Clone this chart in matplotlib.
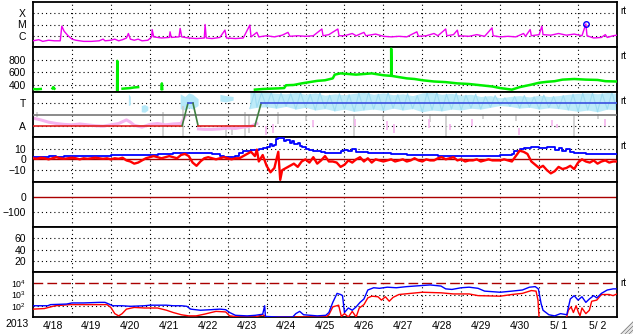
import numpy as np
import matplotlib
matplotlib.use("Agg")
import matplotlib.pyplot as plt
from matplotlib.lines import Line2D

plt.rcParams['font.family'] = ['Liberation Sans', 'DejaVu Sans']
plt.rcParams['mathtext.fontset'] = 'custom'
plt.rcParams['mathtext.rm'] = 'Liberation Sans'
plt.rcParams['mathtext.it'] = 'Liberation Sans'

# ---------------- data (x = days since 2013-04-18 00:00) ----------------
date_labels = ['4/18', '4/19', '4/20', '4/21', '4/22', '4/23', '4/24', '4/25',
               '4/26', '4/27', '4/28', '4/29', '4/30', '5/ 1', '5/ 2']
year_label = '2013'

# X-ray flux, log10(W/m2)
xray_t = [0.0, 0.15, 0.25, 0.4, 0.55, 0.7, 0.74, 0.8, 0.9, 1.0, 1.1, 1.3, 1.5, 1.7, 1.8, 1.85,
          2.0, 2.1, 2.2, 2.3, 2.4, 2.45, 2.5, 2.6, 2.7, 2.8, 2.95, 3.05, 3.06, 3.1, 3.3, 3.5,
          3.52, 3.55, 3.75, 3.78, 3.82, 4.0, 4.2, 4.4, 4.42, 4.45, 4.6, 4.8, 4.93, 4.97, 5.2,
          5.4, 5.57, 5.6, 5.75, 5.8, 6.0, 6.2, 6.4, 6.55, 6.6, 6.8, 7.0, 7.2, 7.42, 7.45, 7.6,
          7.83, 7.86, 8.0, 8.2, 8.3, 8.5, 8.55, 8.8, 9.0, 9.2, 9.4, 9.6, 9.86, 9.9, 10.1, 10.3,
          10.4, 10.6, 10.63, 10.8, 10.9, 10.93, 11.2, 11.4, 11.6, 11.79, 11.82, 12.0, 12.2,
          12.4, 12.6, 12.65, 12.77, 12.8, 13.0, 13.07, 13.1, 13.3, 13.5, 13.7, 13.9, 14.1,
          14.2, 14.23, 14.4, 14.6, 14.7, 14.75, 14.9, 15.0]
xray_v = [-6.45, -6.35, -6.5, -6.4, -6.45, -6.45, -5.15, -5.6, -6.0, -6.3, -6.4, -6.5, -6.5,
          -6.45, -6.3, -6.45, -6.4, -6.3, -6.45, -6.35, -6.2, -5.8, -6.3, -6.4, -6.3, -6.45,
          -6.4, -6.1, -5.45, -6.1, -6.2, -6.15, -5.65, -6.15, -6.1, -5.35, -6.1, -6.2, -6.25,
          -6.2, -5.0, -6.2, -6.25, -6.15, -5.5, -6.2, -6.25, -6.2, -5.05, -6.1, -5.7, -6.1,
          -6.0, -6.1, -5.95, -5.7, -6.05, -6.0, -6.05, -6.0, -5.4, -6.0, -5.9, -5.4, -6.0,
          -6.0, -5.8, -6.0, -5.7, -6.0, -5.85, -6.05, -6.1, -6.05, -6.1, -5.65, -6.05, -6.0,
          -5.8, -6.0, -5.4, -6.0, -5.9, -5.5, -6.0, -6.05, -5.9, -6.05, -5.3, -6.0, -6.1,
          -6.05, -6.1, -5.8, -6.05, -5.45, -6.0, -5.9, -5.15, -5.9, -5.95, -5.8, -5.95, -5.85,
          -6.0, -4.95, -6.0, -6.2, -6.15, -5.9, -6.15, -6.0, -5.95]
flare_t = [14.2]
flare_v = [-4.93]

# Solar wind speed (km/s), NaN = gap
speed_t = [0.0, 0.1, 0.2, 0.25, 0.5, 0.52, 0.55, 0.6, 1.05, 1.1, 1.5, 1.6, 1.9, 2.0, 2.16,
           2.165, 2.17, 2.2, 2.3, 2.4, 2.5, 2.6, 2.7, 2.75, 3.0, 3.1, 3.3, 3.31, 3.32, 3.35,
           4.2, 4.25, 5.4, 5.45, 5.7, 5.9, 6.1, 6.3, 6.45, 6.5, 6.7, 6.9, 7.1, 7.3, 7.5, 7.7,
           7.75, 7.9, 8.1, 8.3, 8.5, 8.7, 8.9, 9.0, 9.2, 9.2, 9.21, 9.4, 9.6, 9.8, 10.0, 10.3,
           10.6, 10.9, 11.2, 11.5, 11.8, 12.0, 12.3, 12.5, 12.8, 13.0, 13.2, 13.4, 13.6, 13.9,
           14.2, 14.5, 14.7, 15.0]
speed_v = [330, 325, 330, np.nan, 340, 360, 335, np.nan, 320, np.nan, 335, np.nan, 320, np.nan,
           320, 780, 320, np.nan, 335, 340, 345, 355, 360, np.nan, 330, np.nan, 330, 420, 330,
           np.nan, 325, np.nan, 325, np.nan, 320, 330, 335, 340, 345, 390, 395, 420, 440, 460,
           470, 500, 560, 580, 570, 560, 570, 580, 560, 550, 540, 975, 540, 520, 500, 490, 470,
           450, 440, 420, 410, 390, 370, 345, 320, 360, 400, 430, 445, 455, 480, 490, 480, 475,
           455, 450]

# T / A panel (normalised panel height 0..1)
mode_t = [0.0, 3.83, 3.98, 4.11, 4.24, 5.70, 5.86, 15.0]
mode_v = ['A', 'A', 'T', 'T', 'A', 'A', 'T', 'T']
pink_t = [0.0, 0.2, 0.4, 0.6, 0.8, 1.0, 1.2, 1.4, 1.6, 1.8, 2.0, 2.2, 2.4, 2.5, 2.6, 2.8, 3.0,
          3.2, 3.4, 3.6, 3.8, 3.9, 4.0, 4.25, 4.4, 4.6, 4.8, 5.0, 5.2, 5.4, 5.6, 5.75]
pink_v = [0.42, 0.38, 0.33, 0.30, 0.28, 0.27, 0.29, 0.27, 0.25, 0.24, 0.27, 0.30, 0.38, 0.33,
          0.26, 0.22, 0.28, 0.30, 0.27, 0.29, 0.30, 0.45, np.nan, 0.18, 0.17, 0.17, 0.18, 0.20,
          0.19, 0.22, 0.24, 0.30]
pink_tick_t = [5.99, 6.17, 7.2, 8.27, 9.1, 9.27, 10.17, 10.7, 11.28, 12.48, 13.33, 13.45, 14.7]
pink_tick_lo = [0.05, 0.10, 0.22, 0.25, 0.15, 0.10, 0.20, 0.15, 0.25, 0.05, 0.25, 0.20, 0.25]
pink_tick_hi = [0.25, 0.30, 0.38, 0.40, 0.35, 0.30, 0.40, 0.30, 0.40, 0.20, 0.38, 0.30, 0.40]
cyan_blob_t = [[2.45, 2.5], [2.78, 2.87, 2.95], [3.78, 3.9, 4.0, 4.1, 4.24], [4.8, 4.95, 5.14]]
cyan_blob_lo = [[0.70, 0.72], [0.56, 0.55, 0.60], [0.63, 0.60, 0.65, 0.62, 0.70], [0.80, 0.78, 0.82]]
cyan_blob_hi = [[0.96, 0.90], [0.70, 0.72, 0.68], [0.96, 0.90, 0.98, 0.95, 0.85], [0.95, 0.92, 0.90]]
cyan_t = [5.57, 5.75, 6.0, 6.25, 6.5, 6.75, 7.0, 7.25, 7.5, 7.75, 8.0, 8.25, 8.5, 8.75, 9.0,
          9.25, 9.5, 9.75, 10.0, 10.25, 10.5, 10.75, 11.0, 11.25, 11.5, 11.75, 12.0, 12.25,
          12.5, 12.75, 13.0, 13.25, 13.5, 13.75, 14.0, 14.25, 14.5, 14.75, 15.0]
cyan_lo = [0.63, 0.66, 0.67, 0.64, 0.68, 0.62, 0.66, 0.60, 0.63, 0.58, 0.62, 0.57, 0.60, 0.62,
           0.59, 0.64, 0.60, 0.63, 0.56, 0.60, 0.58, 0.62, 0.60, 0.64, 0.62, 0.66, 0.70, 0.68,
           0.64, 0.66, 0.62, 0.65, 0.63, 0.60, 0.57, 0.60, 0.56, 0.62, 0.60]
cyan_hi = [1.00, 0.98, 0.99, 0.97, 0.96, 0.99, 0.95, 0.98, 0.93, 0.96, 0.94, 0.97, 0.99, 0.95,
           0.98, 0.94, 0.96, 0.92, 0.98, 0.99, 0.95, 0.97, 0.93, 0.95, 0.90, 0.92, 0.87, 0.90,
           0.92, 0.89, 0.93, 0.90, 0.92, 0.95, 0.97, 0.98, 0.96, 0.99, 0.97]
grey_t = [0.1, 3.34, 3.85, 4.95, 5.1, 5.45, 5.55, 6.3, 7.0, 8.25, 9.0, 10.2, 10.6, 11.55, 12.4, 13.9, 14.5]
grey_lo = [0.45, 0.0, 0.0, 0.0, 0.05, 0.0, 0.10, 0.30, 0.35, 0.0, 0.38, 0.33, 0.0, 0.40, 0.35, 0.0, 0.40]
grey_hi = [0.55, 0.55, 0.70, 0.26, 0.20, 0.55, 0.50, 0.55, 0.50, 0.48, 0.50, 0.52, 0.52, 0.52, 0.50, 0.52, 0.52]

# IMF (nT): Bt (blue) and Bz (red)
bt_t = [0.0, 0.2, 0.4, 0.6, 0.8, 1.0, 1.2, 1.4, 1.6, 1.8, 2.0, 2.2, 2.4, 2.6, 2.8, 3.0, 3.2, 3.4,
        3.6, 3.8, 4.0, 4.2, 4.4, 4.6, 4.8, 4.9, 5.0, 5.1, 5.2, 5.3, 5.4, 5.5, 5.6, 5.7, 5.8, 5.9,
        6.0, 6.1, 6.15, 6.2, 6.25, 6.3, 6.4, 6.45, 6.5, 6.6, 6.65, 6.7, 6.8, 6.85, 6.9, 7.0, 7.1,
        7.2, 7.3, 7.4, 7.5, 7.6, 7.7, 7.8, 7.9, 8.0, 8.1, 8.2, 8.3, 8.4, 8.6, 8.8, 9.0, 9.2, 9.4,
        9.6, 9.8, 10.0, 10.4, 10.8, 11.2, 11.6, 12.0, 12.2, 12.3, 12.35, 12.5, 12.6, 12.8, 13.0,
        13.2, 13.3, 13.4, 13.5, 13.6, 13.7, 13.8, 13.9, 14.0, 14.2, 14.6, 15.0]
bt_v = [2.5, 2.5, 2.8, 2.6, 2.8, 3.0, 2.8, 3.0, 3.2, 3.5, 3.6, 3.8, 3.8, 4.0, 3.8, 4.2, 4.5, 5.0,
        5.5, 5.5, 5.8, 5.6, 5.5, 5.4, 3.5, 2.5, 2.0, 2.0, 3.0, 6.0, 7.5, 8.0, 8.5, 9.0, 9.5, 10.5,
        11.0, 14.0, 12.0, 13.5, 19.0, 20.0, 19.5, 17.0, 17.5, 15.5, 17.0, 14.0, 15.0, 12.0, 11.5,
        10.0, 9.0, 8.0, 7.5, 6.5, 6.0, 6.2, 5.8, 6.0, 8.0, 9.0, 8.0, 9.5, 7.0, 6.5, 6.0, 6.0, 5.5,
        5.0, 4.5, 4.0, 4.2, 3.8, 3.5, 3.3, 3.3, 3.5, 4.0, 4.2, 5.0, 8.0, 9.5, 10.5, 11.0, 10.5,
        11.0, 11.5, 9.0, 10.5, 8.0, 9.5, 6.5, 6.0, 5.5, 5.0, 4.8, 4.5]
bz_t = [0.0, 0.1, 0.2, 0.3, 0.4, 0.5, 0.6, 0.7, 0.8, 0.9, 1.0, 1.1, 1.2, 1.3, 1.4, 1.5, 1.6, 1.7,
        1.8, 1.9, 2.0, 2.1, 2.2, 2.3, 2.4, 2.5, 2.6, 2.7, 2.8, 2.9, 3.0, 3.1, 3.2, 3.3, 3.4, 3.5,
        3.6, 3.7, 3.8, 3.9, 4.0, 4.1, 4.2, 4.3, 4.4, 4.5, 4.6, 4.7, 4.8, 4.9, 5.0, 5.1, 5.2, 5.3,
        5.4, 5.5, 5.6, 5.7, 5.75, 5.8, 5.9, 6.0, 6.1, 6.2, 6.3, 6.35, 6.4, 6.5, 6.6, 6.7, 6.8,
        6.9, 7.0, 7.1, 7.2, 7.3, 7.4, 7.5, 7.6, 7.7, 7.8, 7.9, 8.0, 8.1, 8.2, 8.3, 8.4, 8.5, 8.6,
        8.7, 8.8, 8.9, 9.0, 9.1, 9.2, 9.3, 9.4, 9.5, 9.6, 9.7, 9.8, 9.9, 10.0, 10.1, 10.2, 10.3,
        10.4, 10.5, 10.6, 10.7, 10.8, 10.9, 11.0, 11.1, 11.2, 11.3, 11.4, 11.5, 11.6, 11.7, 11.8,
        11.9, 12.0, 12.1, 12.2, 12.3, 12.4, 12.5, 12.6, 12.7, 12.8, 12.9, 13.0, 13.1, 13.2, 13.3,
        13.4, 13.5, 13.6, 13.7, 13.8, 13.9, 14.0, 14.1, 14.2, 14.3, 14.4, 14.5, 14.6, 14.7, 14.8,
        14.9, 15.0]
bz_v = [1, 0.5, 1.5, 1, 0, 1, 2, 1, 0.5, 1, 1.5, 1, 0, 1, 0.5, 1, 1.5, 1, 0.5, 1, 0, 1, 0.5,
        1.5, -1, -2, -4, -3, -1, 1, 2, 3, 2, 1, 2, 3, 2, 1, 4, 5, 3, -3, -6, -2, 1, 2, 1, 0, 1,
        2, 1, 0, 1, 1, 3, 5, 7, 3, 9, -2, 4, -6, -12, -8, 7, -19, -10, -8, -6, -4, -7, -2, 0, -3,
        2, -4, -1, 3, -2, -2, -3, -7, -5, -1, -3, 0, 2, -2, 1, -3, 0, -1, -2, -1, 0, -2, -1, 0,
        -2, -1, 1, -1, -2, 0, -1, -1, 1, 2, 0, 1, 2, -1, 0, -2, -1, -1, 0, -2, -1, 0, -1, -1, -1,
        0, -1, -2, 3, 8, 7, 5, -2, -5, -8, -6, -10, -13, -11, -7, -9, -8, -6, -9, -3, 0, -2, -3,
        -1, -4, -2, -1, -3, -2, -2]

# Electron flux, log10
eb_t = [0.0, 0.38, 0.45, 0.86, 1.0, 1.3, 1.71, 1.85, 1.95, 2.05, 2.29, 2.5, 2.86, 3.0, 3.43,
        3.6, 3.81, 3.95, 4.05, 4.3, 4.57, 4.8, 4.95, 5.05, 5.2, 5.5, 5.71, 5.9, 5.95, 5.97, 6.3,
        6.67, 6.75, 6.85, 6.95, 7.3, 7.52, 7.6, 7.7, 7.81, 7.9, 7.95, 8.0, 8.1, 8.2, 8.3, 8.4,
        8.5, 8.6, 8.75, 8.9, 9.1, 9.33, 9.6, 10.0, 10.2, 10.48, 10.6, 10.76, 11.0, 11.2, 11.43,
        11.6, 12.0, 12.3, 12.57, 12.75, 12.9, 12.98, 13.05, 13.1, 13.25, 13.4, 13.55, 13.71,
        13.8, 13.9, 14.0, 14.1, 14.2, 14.29, 14.4, 14.48, 14.6, 14.75, 14.9, 15.0]
eb_v = [2.0, 2.0, 2.1, 2.15, 2.25, 2.25, 2.3, 2.3, 2.15, 2.0, 2.0, 1.95, 2.0, 2.05, 2.05, 2.0,
        2.0, 1.95, 1.7, 1.6, 1.65, 1.7, 1.65, 1.4, 1.15, 1.1, 1.15, 1.25, 2.0, 1.05, 1.0, 1.0,
        1.3, 1.5, 1.2, 1.1, 1.15, 1.4, 2.3, 3.1, 3.0, 2.9, 1.4, 1.8, 1.6, 1.9, 2.3, 2.6, 3.4, 3.6,
        3.55, 3.65, 3.6, 3.7, 3.8, 3.85, 3.75, 3.5, 3.45, 3.6, 3.65, 3.55, 3.3, 3.2, 3.3, 3.4,
        3.65, 3.7, 3.5, 2.2, 1.6, 1.2, 1.1, 1.3, 1.2, 2.6, 2.9, 2.5, 2.8, 2.3, 2.6, 2.9, 2.7, 3.1,
        3.4, 3.5, 3.5]
er_t = [0.0, 0.29, 0.4, 0.57, 0.95, 1.5, 1.9, 2.0, 2.1, 2.2, 2.29, 2.4, 2.6, 2.86, 3.2, 3.43,
        3.6, 3.81, 4.0, 4.19, 4.4, 4.7, 4.95, 5.05, 5.3, 5.71, 5.9, 6.0, 7.0, 7.52, 7.6, 7.7,
        7.85, 7.92, 8.0, 8.1, 8.2, 8.3, 8.38, 8.5, 8.6, 8.7, 8.86, 8.95, 9.05, 9.15, 9.25, 9.4,
        9.7, 10.0, 10.48, 10.8, 11.2, 11.43, 12.0, 12.3, 12.57, 12.8, 12.92, 12.97, 13.0, 13.7,
        13.75, 13.82, 13.88, 13.95, 14.0, 14.05, 14.1, 14.2, 14.29, 14.35, 14.48, 14.6, 14.8,
        14.9, 15.0]
er_v = [1.7, 1.75, 1.85, 2.0, 2.1, 2.1, 2.1, 1.85, 1.3, 1.1, 1.3, 1.7, 1.85, 1.8, 1.8, 1.6, 1.4,
        1.2, 1.1, 1.1, 1.25, 1.5, 1.45, 1.1, 1.0, 1.0, 1.2, 1.0, 1.0, 1.0, 1.2, 1.9, 2.05, 1.05,
        1.3, 1.0, 1.5, 1.0, 1.8, 2.1, 2.7, 2.85, 2.8, 2.5, 2.8, 2.4, 2.75, 3.0, 3.1, 3.2, 3.15,
        3.05, 3.05, 2.9, 2.85, 3.0, 3.1, 3.35, 3.3, 2.5, 0.9, 0.9, 1.6, 1.9, 1.4, 2.0, 1.5, 1.1,
        1.8, 1.3, 1.6, 2.4, 2.5, 3.0, 3.0, 2.9, 3.05]

# ---------------- figure ----------------
W, H = 633, 334
fig = plt.figure(figsize=(W / 100, H / 100), dpi=100)
fig.patch.set_facecolor('white')

tops = [2, 47, 92, 137, 182, 227, 272]
axes = []
for top in tops:
    ax = fig.add_axes([33 / W, 1 - (top + 45) / H, 584 / W, 45 / H])
    ax.set_xlim(0, 15)
    for s in ax.spines.values():
        s.set_linewidth(1.3)
        s.set_color('black')
    ax.tick_params(axis='both', length=0, labelsize=7.5, pad=5)
    ax.set_xticks([])
    axes.append(ax)

DOT = (0, (1, 2.75))


def grid(ax, ys):
    for d in range(1, 15):
        ax.axvline(d, color='black', lw=0.8, ls=DOT, zorder=1)
    for y in ys:
        ax.axhline(y, color='black', lw=0.8, ls=DOT, zorder=1)


def rt(ax, dy=9):
    bb = ax.get_position()
    y = bb.y1 - dy / H
    fig.text(620 / W, y, 'rt', fontsize=7, ha='left', va='center')


# Panel 1: X-ray
ax = axes[0]
ax.set_yscale('log')
ax.set_ylim(1e-7, 1e-3)
ax.set_yticks([1e-4, 1e-5, 1e-6])
ax.set_yticklabels(['X', 'M', 'C'])
ax.minorticks_off()
grid(ax, [1e-4, 1e-5, 1e-6])
ax.plot(xray_t, 10 ** np.array(xray_v), color='#ee00ee', lw=1.0, zorder=3)
ax.plot(flare_t, 10 ** np.array(flare_v), 'o', mfc='none', mec='#0000ff', ms=4, mew=1, zorder=4)
rt(ax)

# Panel 2: speed
ax = axes[1]
ax.set_ylim(282, 1002)
ax.set_yticks([800, 600, 400])
grid(ax, [800, 600, 400])
ax.plot(speed_t, speed_v, color='#00ee00', lw=1.8, zorder=3)
rt(ax)

# Panel 3: T / A
ax = axes[2]
ax.set_ylim(0, 1)
ax.set_yticks([0.75, 0.25])
ax.set_yticklabels(['T', 'A'])
grid(ax, [0.75, 0.25])
for tt, lo, hi in zip(cyan_blob_t, cyan_blob_lo, cyan_blob_hi):
    ax.fill_between(tt, lo, hi, color='#b4e8f8', lw=0, zorder=2)
ax.fill_between(cyan_t, cyan_lo, cyan_hi, color='#bdebf9', lw=0, zorder=2)
zz_t = np.column_stack([cyan_t, np.array(cyan_t) + 0.12]).ravel()
zz_v = np.column_stack([cyan_lo, cyan_hi]).ravel()
ax.plot(zz_t, zz_v, color='#9edcf2', lw=0.8, zorder=2)
ax.vlines(grey_t, grey_lo, grey_hi, color='#cccccc', lw=1.2, zorder=2)
ax.plot(pink_t, pink_v, color='#f5b4ee', lw=2.2, zorder=2)
ax.vlines(pink_tick_t, pink_tick_lo, pink_tick_hi, color='#f5b4ee', lw=1.2, zorder=2)
ax.axhline(0.5, color='#777777', lw=1.2, zorder=3)
lev = {'A': 0.25, 'T': 0.75}
for i in range(len(mode_t) - 1):
    a, b = mode_v[i], mode_v[i + 1]
    if a == b:
        c = '#e02020' if a == 'A' else '#3a4fe0'
    else:
        c = '#3f7f3f'
    ax.plot([mode_t[i], mode_t[i + 1]], [lev[a], lev[b]], color=c, lw=1.2, zorder=4)
rt(ax)

# Panel 4: IMF
ax = axes[3]
ax.set_ylim(-21, 20.7)
ax.set_yticks([10, 0, -10])
grid(ax, [10, -10])
ax.axhline(0, color='#aa0000', lw=1.0, zorder=2)
ax.plot(bt_t, bt_v, color='#0000ff', lw=1.3, zorder=3, drawstyle='steps-post')
ax.plot(bz_t, bz_v, color='#ff0000', lw=1.7, zorder=4)
rt(ax)

# Panel 5: Dst
ax = axes[4]
ax.set_ylim(-200, 100)
ax.set_yticks([0, -100])
grid(ax, [-100])
ax.axhline(0, color='#aa0000', lw=1.0, zorder=2)

# Panel 6
ax = axes[5]
ax.set_ylim(0, 80)
ax.set_yticks([60, 40, 20])
grid(ax, [60, 40, 20])

# Panel 7: electrons
ax = axes[6]
ax.set_yscale('log')
ax.set_ylim(10, 1e5)
ax.minorticks_off()
ax.set_yticks([1e4, 1e3, 1e2])
ax.set_yticklabels(['$10^4$', '$10^3$', '$10^2$'])
ax.tick_params(axis='y', labelsize=6.3, pad=5)
grid(ax, [1e3, 1e2])
ax.axhline(1e4, color='#aa0000', lw=1.0, ls=(0, (7, 3)), zorder=2)
ax.plot(er_t, 10 ** np.array(er_v), color='#ff0000', lw=1.0, zorder=3)
ax.plot(eb_t, 10 ** np.array(eb_v), color='#0000ff', lw=1.0, zorder=4)
ax.set_xticks([i + 0.5 for i in range(len(date_labels))])
ax.set_xticklabels(date_labels)
ax.tick_params(axis='x', length=0, pad=3, labelsize=7.5)
rt(ax, dy=11)

fig.text(17 / W, 1 - 324 / H, year_label, fontsize=7.5, ha='center', va='center')

# window resize grip
for k in (4, 8, 12):
    fig.add_artist(Line2D([(W - k) / W, 1], [0, k / H], color='#888888', lw=0.8,
                          transform=fig.transFigure))
    fig.add_artist(Line2D([(W - k + 1.5) / W, 1], [0, (k - 1.5) / H], color='#dddddd',
                          lw=0.8, transform=fig.transFigure))

fig.savefig('out.png', dpi=100, facecolor='white')
